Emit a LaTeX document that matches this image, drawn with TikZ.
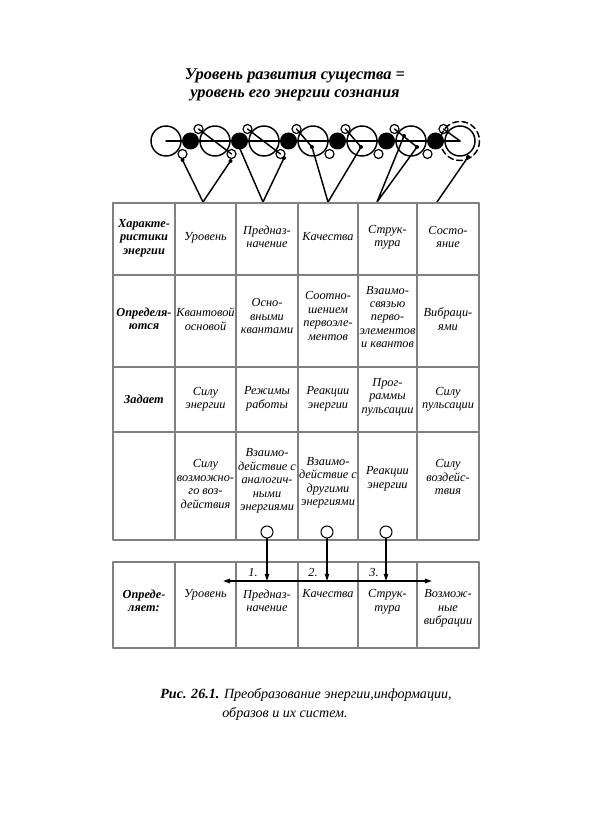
\documentclass[tikz,border=0pt]{standalone}
\usepackage{fontspec}
\setmainfont{Liberation Serif}
\usetikzlibrary{arrows.meta}

\tikzset{
  cell/.style={align=center, inner sep=0.5pt, font=\fontsize{10.5}{11.5}\selectfont\itshape},
  headcell/.style={cell, font=\fontsize{10.5}{11.5}\selectfont\bfseries\itshape},
  gridline/.style={draw=black!50, line width=0.9pt},
  chainline/.style={line width=1.25pt},
  ring/.style={circle, draw, fill=white, line width=0.9pt, inner sep=0pt, minimum size=0.36cm},
  drop/.style={line width=0.9pt, -{Triangle[length=6pt,width=3.6pt]}},
  axis/.style={line width=1.3pt, {Triangle[length=6pt,width=3.8pt]}-{Triangle[length=6pt,width=3.8pt]}},
  num/.style={font=\fontsize{10.5}{12}\selectfont\itshape, inner sep=1pt}
}

\begin{document}
\begin{tikzpicture}[x=0.03cm, y=-0.03cm, line cap=round, line join=round]
    \useasboundingbox (0,0) rectangle (591,820);
    \def\R{15}
    \def\rb{8.5}
    \def\rs{4.5}
    \def\yc{141}

    % title
    \node[align=center, font=\fontsize{14}{15.5}\selectfont\bfseries\itshape] (title) at (295,85)
      {Уровень развития существа =\\уровень его энергии сознания};

    % chain of energies
    \draw[chainline] (166,\yc) -- (460,\yc);
    \foreach \i in {0,...,6} \draw[chainline] (166+49*\i,\yc) circle[radius=\R];
    \foreach \i in {0,...,5} {
      \fill (190.5+49*\i,\yc) circle[radius=\rb];
      \draw[line width=1pt] (198.5+49*\i,129) circle[radius=\rs];
      \draw[line width=1pt] (182.5+49*\i,154) circle[radius=\rs];
    }
    \draw[chainline, dash pattern=on 5pt off 3pt] (460,\yc) circle[radius=19.5];
    \draw[chainline] (198.5,129) -- (231.5,154);
    \draw[chainline] (247.5,129) -- (280.5,154);
    \draw[chainline] (296.5,129) -- (312,147);
    \draw[chainline] (345.5,129) -- (361,147);
    \draw[chainline] (394.5,129) -- (417,147);
    \draw[chainline] (443.5,129) -- (460,\yc);

    % pointers to the table
    \coordinate (d1) at (182.5,160);
    \coordinate (d2) at (230.5,161);
    \coordinate (d3) at (240,149);
    \coordinate (d4) at (284,158);
    \coordinate (d5) at (312,147);
    \coordinate (d6) at (361,147);
    \coordinate (d7) at (404,136);
    \coordinate (d8) at (417,147);
    \coordinate (d9) at (468,157);
    \coordinate (v1) at (203,202);
    \coordinate (v2) at (263,202);
    \coordinate (v3) at (328,202);
    \coordinate (v4) at (377,202);
    \coordinate (v5) at (437,202);
    \draw[chainline] (d1) -- (v1) -- (d2);
    \draw[chainline] (d3) -- (v2) -- (d4);
    \draw[chainline] (d5) -- (v3) -- (d6);
    \draw[chainline] (d7) -- (v4) -- (d8);
    \draw[chainline] (v5) -- (d9);
    \foreach \p in {d1,d2,d4,d5,d6,d7,d8,d9} \fill (\p) circle[radius=2];

    % upper table
    \draw[gridline] (113,203) rectangle (479,540);
    \foreach \y in {275,367,432} \draw[gridline] (113,\y) -- (479,\y);
    \foreach \x in {175,236,298,358,417} \draw[gridline] (\x,203) -- (\x,540);

    \node[headcell] (a1) at (144,238) {Характе-\\ристики\\энергии};
    \node[cell] (a2) at (205.5,238) {Уровень};
    \node[cell] (a3) at (267,237) {Предназ-\\начение};
    \node[cell] (a4) at (328,237) {Качества};
    \node[cell] (a5) at (387.5,237) {Струк-\\тура};
    \node[cell] (a6) at (448,237) {Состо-\\яние};

    \node[headcell] (b1) at (144,319) {Определя-\\ются};
    \node[cell] (b2) at (205.5,319) {Квантовой\\основой};
    \node[cell] (b3) at (267,316) {Осно-\\вными\\квантами};
    \node[cell] (b4) at (328,316) {Соотно-\\шением\\первоэле-\\ментов};
    \node[cell] (b5) at (387.5,317) {Взаимо-\\связью\\перво-\\элементов\\и квантов};
    \node[cell] (b6) at (448,319) {Вибраци-\\ями};

    \node[headcell] (c1) at (144,399) {Задает};
    \node[cell] (c2) at (205.5,399) {Силу\\энергии};
    \node[cell] (c3) at (267,399) {Режимы\\работы};
    \node[cell] (c4) at (328,399) {Реакции\\энергии};
    \node[cell] (c5) at (387.5,397) {Прог-\\раммы\\пульсации};
    \node[cell] (c6) at (448,399) {Силу\\пульсации};

    \node[cell] (e2) at (205.5,484) {Силу\\возможно-\\го воз-\\действия};
    \node[cell] (e3) at (267,481) {Взаимо-\\действие с\\аналогич-\\ными\\энергиями};
    \node[cell] (e4) at (328,483) {Взаимо-\\действие с\\другими\\энергиями};
    \node[cell] (e5) at (387.5,479) {Реакции\\энергии};
    \node[cell] (e6) at (448,477) {Силу\\воздейс-\\твия};

    % lower table
    \draw[gridline] (113,562) rectangle (479,648);
    \foreach \x in {175,236,298,358,417} \draw[gridline] (\x,562) -- (\x,648);

    \node[headcell, anchor=north] (f1) at (144,589) {Опреде-\\ляет:};
    \node[cell, anchor=north] (f2) at (205.5,589) {Уровень};
    \node[cell, anchor=north] (f3) at (267,589) {Предназ-\\начение};
    \node[cell, anchor=north] (f4) at (328,589) {Качества};
    \node[cell, anchor=north] (f5) at (387.5,589) {Струк-\\тура};
    \node[cell, anchor=north] (f6) at (448,589) {Возмож-\\ные\\вибрации};

    % transfer arrows
    \coordinate (axL) at (223,581);
    \coordinate (axR) at (432,581);
    \draw[axis] (axL) -- (axR);
    \node[ring] (q1) at (267,532) {};
    \node[ring] (q2) at (327,532) {};
    \node[ring] (q3) at (386,532) {};
    \draw[drop] (q1.south) -- (q1.south |- axL);
    \draw[drop] (q2.south) -- (q2.south |- axL);
    \draw[drop] (q3.south) -- (q3.south |- axL);
    \node[num] (n1) at (253,573) {1.};
    \node[num] (n2) at (313,573) {2.};
    \node[num] (n3) at (374,573) {3.};

    % caption
    \node[font=\fontsize{12}{14}\selectfont\itshape] (cap1) at (306,695)
      {\textbf{Рис. 26.1.} Преобразование энергии,информации,};
    \node[font=\fontsize{12}{14}\selectfont\itshape] (cap2) at (285,714) {образов и их систем.};
\end{tikzpicture}
\end{document}
